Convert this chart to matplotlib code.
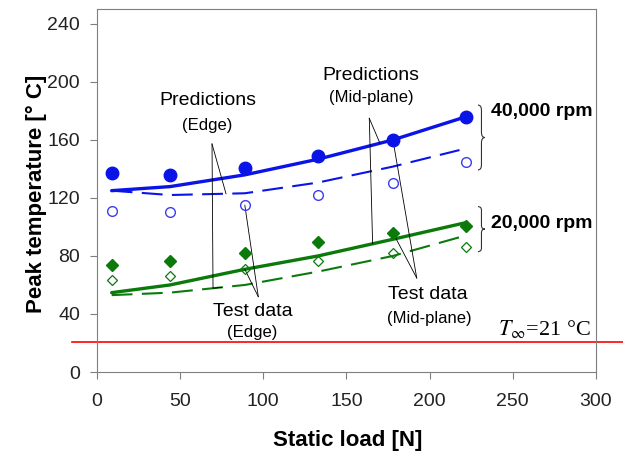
import numpy as np
import matplotlib
matplotlib.use('Agg')
import matplotlib.pyplot as plt
from matplotlib.path import Path
from matplotlib.patches import PathPatch

plt.rcParams['font.family'] = ['Liberation Sans', 'DejaVu Sans']
plt.rcParams['mathtext.fontset'] = 'stix'

# static load [N]
load = [9, 44, 89, 133, 178, 222]
load_dash = [9, 44, 89, 133, 178, 218]

# test data
test_40k_mid = [137, 136, 140.5, 149, 160, 176]
test_40k_edge = [111, 110.6, 115, 122, 130.6, 145]
test_20k_mid = [73.6, 76.8, 81.8, 89.7, 96, 100.7]
test_20k_edge = [63.4, 66.2, 70.8, 76.8, 81.8, 86]

# predictions
pred_40k_mid = [125, 127.8, 135.9, 146.7, 160, 176]
pred_40k_edge = [125, 122, 123.2, 130.6, 141.6, 153]
pred_20k_mid = [54.7, 60, 70.8, 80, 91.5, 103]
pred_20k_edge = [53, 54.7, 60, 69.2, 80, 92.9]

t_inf = 21

blue = '#0a14e6'
blue_open = '#3c3cf0'
green = '#0b7a0b'

fig = plt.figure(figsize = (6.23, 4.55), dpi = 100)
ax = fig.add_axes([0.1552, 0.1824, 0.8014, 0.7971])

ax.plot(load, pred_40k_mid, color = blue, lw = 2.4, solid_capstyle = 'round')
ax.plot(load_dash, pred_40k_edge, color = blue, lw = 1.5, dashes = (10, 4.5))
ax.plot(load, pred_20k_mid, color = green, lw = 2.4, solid_capstyle = 'round')
ax.plot(load_dash, pred_20k_edge, color = green, lw = 1.5, dashes = (10, 4.5))

ax.plot(load, test_40k_mid, 'o', color = blue, ms = 9, zorder = 4)
ax.plot(load, test_40k_edge, 'o', mfc = 'none', mec = blue_open, ms = 7, mew = 1, zorder = 4)
ax.plot(load, test_20k_mid, 'D', color = green, ms = 6, zorder = 4)
ax.plot(load, test_20k_edge, 'D', mfc = 'none', mec = green, ms = 4.8, mew = 0.9, zorder = 4)

ax.axhline(t_inf, xmin = -0.05, xmax = 1.06, color = 'red', lw = 1.2, clip_on = False)
ax.text(297, 25.5, r'$T_{\infty}$=21 °C', family = ['Liberation Serif', 'DejaVu Serif'],
        fontsize = 16, ha = 'right', va = 'baseline')

# leader lines
lk = dict(color = 'black', lw = 0.6, zorder = 3)
apex = (69.3, 157.2)
ax.plot([apex[0], 77.7], [apex[1], np.interp(77.7, load_dash, pred_40k_edge)], **lk)
g = np.interp(69.9, load_dash, pred_20k_edge)
ax.plot([apex[0], 69.9, 75.3], [apex[1], g, np.interp(75.3, load_dash, pred_20k_edge)], **lk)

apex = (163.8, 174.9)
ax.plot([apex[0], 170.2], [apex[1], np.interp(170.2, load, pred_40k_mid)], **lk)
ax.plot([apex[0], 165.8], [apex[1], np.interp(165.8, load, pred_20k_mid)], **lk)

apex = (97.1, 51.9)
ax.plot([apex[0], load[2]], [apex[1], test_40k_edge[2]], **lk)
ax.plot([apex[0], load[2]], [apex[1], test_20k_edge[2]], **lk)

apex = (192.3, 64.8)
ax.plot([apex[0], load[4]], [apex[1], test_40k_mid[4]], **lk)
ax.plot([apex[0], load[4]], [apex[1], test_20k_mid[4]], **lk)

ax.text(66.6, 187, 'Predictions', fontsize = 14, ha = 'center', va = 'center')
ax.text(66.1, 170.2, '(Edge)', fontsize = 12, ha = 'center', va = 'center')
ax.text(164.7, 204.2, 'Predictions', fontsize = 14, ha = 'center', va = 'center')
ax.text(165.2, 189.1, '(Mid-plane)', fontsize = 12, ha = 'center', va = 'center')
ax.text(93.8, 42, 'Test data', fontsize = 14, ha = 'center', va = 'center')
ax.text(93.7, 26.9, '(Edge)', fontsize = 12, ha = 'center', va = 'center')
ax.text(199.1, 53.1, 'Test data', fontsize = 14, ha = 'center', va = 'center')
ax.text(199.7, 37.2, '(Mid-plane)', fontsize = 12, ha = 'center', va = 'center')


def brace(x0, x1, ylo, yhi):
    xm = (x0 + x1) / 2
    ym = (ylo + yhi) / 2
    r = (yhi - ylo) * 0.08
    verts = [(x0, yhi), (xm, yhi), (xm, yhi - r), (xm, ym + r), (xm, ym), (x1, ym),
             (xm, ym), (xm, ym - r), (xm, ylo + r), (xm, ylo), (x0, ylo)]
    codes = [Path.MOVETO, Path.CURVE3, Path.CURVE3, Path.LINETO, Path.CURVE3, Path.CURVE3,
             Path.CURVE3, Path.CURVE3, Path.LINETO, Path.CURVE3, Path.CURVE3]
    ax.add_patch(PathPatch(Path(verts, codes), fill = False, lw = 0.8, color = '#333333', clip_on = False))


brace(229.1, 233.3, 139.3, 184)
brace(229.1, 233.3, 83, 114)
ax.text(236.9, 179.4, '40,000 rpm', fontsize = 14, fontweight = 'bold', va = 'center')
ax.text(236.9, 102.5, '20,000 rpm', fontsize = 14, fontweight = 'bold', va = 'center')

ax.set_xlim(0, 300)
ax.set_ylim(0, 250)
ax.set_xticks(np.arange(0, 301, 50))
ax.set_yticks(np.arange(0, 241, 40))
ax.tick_params(direction = 'out', length = 5, width = 0.8, color = '#7f7f7f', labelsize = 14,
               labelcolor = '#222222')
ax.tick_params(axis = 'x', pad = 10)
ax.tick_params(axis = 'y', pad = 7)
for s in ax.spines.values():
    s.set_color('#7f7f7f')
    s.set_linewidth(0.8)

ax.set_xlabel('Static load [N]', fontsize = 16, fontweight = 'bold', va = 'center')
ax.set_ylabel('Peak temperature [° C]', fontsize = 16, fontweight = 'bold', va = 'center')
ax.xaxis.set_label_coords(0.502, -0.1875)
ax.yaxis.set_label_coords(-0.12, 0.49)

plt.savefig('out.png', dpi = 100)
